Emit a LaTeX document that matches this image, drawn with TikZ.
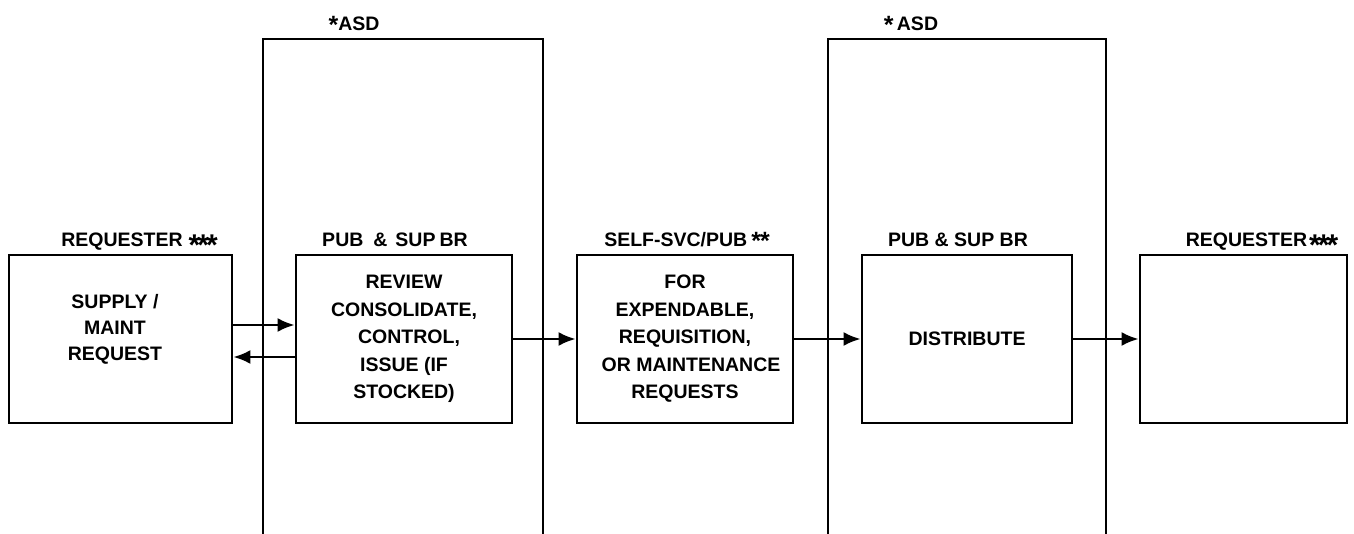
\documentclass[tikz,border=0pt]{standalone}
\usepackage{fontspec}
\setmainfont{Liberation Sans}
\usetikzlibrary{arrows.meta,calc}
\newcommand{\bigstars}[1]{\raisebox{-9pt}{\fontsize{30}{30}\selectfont #1}}
\newcommand{\midstar}[1]{\raisebox{-3pt}{\fontsize{25}{25}\selectfont #1}}
\begin{document}
\begin{tikzpicture}[x=1pt,y=-1pt,
  box/.style={draw,line width=2.8pt,inner sep=0pt,align=center,
    font=\bfseries\fontsize{19.5}{27.5}\selectfont},
  txt/.style={inner sep=0pt,align=center,font=\bfseries\fontsize{19.5}{26}\selectfont},
  lbl/.style={inner sep=0pt,anchor=base,font=\bfseries\fontsize{19.5}{24}\selectfont},
  frame/.style={line width=2.2pt},
  arr/.style={line width=2.4pt,-{Latex[length=17pt,width=14pt]}}]
\useasboundingbox (0,0) rectangle (1354,534);
% ASD frames
\draw[frame] (263,534) -- (263,39) -- (543,39) -- (543,534);
\draw[frame] (828,534) -- (828,39) -- (1106,39) -- (1106,534);
\node[lbl] (asd1) at (354,31) {\midstar{*}ASD};
\node[lbl] (asd2) at (911,31) {\midstar{*}\,ASD};
% boxes
\node[box,minimum width=223pt,minimum height=168pt] (b1) at (120.5,339) {};
\node[txt] (b1t) at (115,329) {SUPPLY /\\MAINT\\REQUEST};
\node[box,minimum width=216pt,minimum height=168pt] (b2) at (404,339)
  {REVIEW\\CONSOLIDATE,\\\hspace*{10pt}CONTROL,\\ISSUE (IF\\STOCKED)};
\node[box,minimum width=216pt,minimum height=168pt] (b3) at (685,339)
  {FOR\\EXPENDABLE,\\REQUISITION,\\\hspace*{12pt}OR MAINTENANCE\\REQUESTS};
\node[box,minimum width=210pt,minimum height=168pt] (b4) at (967,339) {DISTRIBUTE};
\node[box,minimum width=207pt,minimum height=168pt] (b5) at (1243.5,339) {};
% labels
\node[lbl] (l1) at (139.5,247) {REQUESTER\hspace{6pt}\bigstars{*\kern-3pt*\kern-3pt*}};
\node[lbl] (l2) at (395,247) {PUB\hspace{10pt}\&\hspace{8pt}SUP\hspace{4pt}BR};
\node[lbl] (l3) at (687,247) {SELF-SVC/PUB\hspace{4pt}\midstar{*\kern-1pt*}};
\node[lbl] (l4) at (958,247) {PUB \& SUP BR};
\node[lbl] (l5) at (1262,247) {REQUESTER\hspace{2pt}\bigstars{*\kern-3pt*\kern-3pt*}};
% arrows
\draw[arr] ([yshift=14pt]b1.east) -- ([yshift=14pt]b2.west);
\draw[arr] ([yshift=-18pt]b2.west) -- ([yshift=-18pt]b1.east);
\draw[arr] (b2.east) -- (b3.west);
\draw[arr] (b3.east) -- (b4.west);
\draw[arr] (b4.east) -- (b5.west);
\end{tikzpicture}
\end{document}
